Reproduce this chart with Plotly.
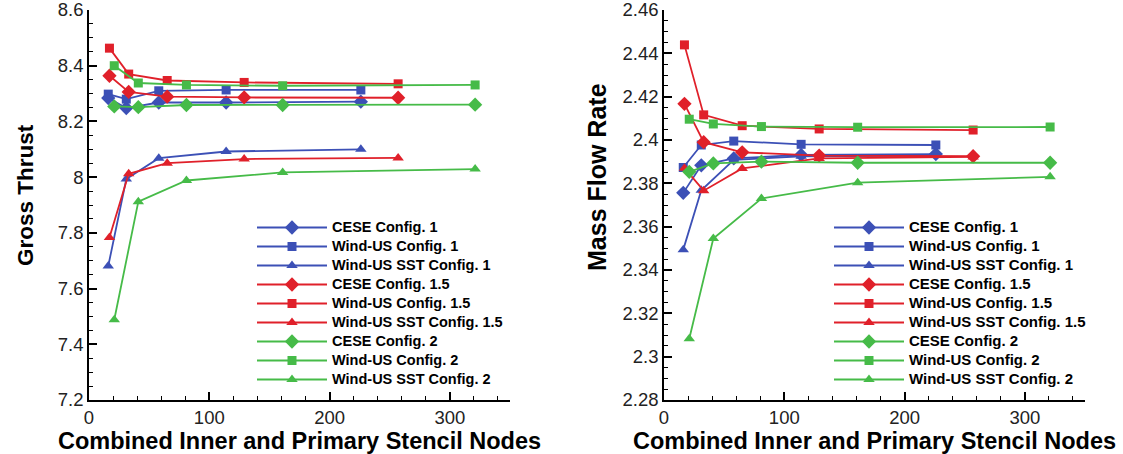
import plotly.graph_objects as go

# ---------------- data ----------------
x_c1 = [16, 31, 58, 114, 226]
x_c15 = [17, 33, 65, 129, 257]
x_c2 = [21, 41, 81, 161, 321]

thrust_cese1 = [8.284, 8.248, 8.268, 8.268, 8.271]
thrust_wind1 = [8.298, 8.280, 8.310, 8.313, 8.313]
thrust_sst1 = [7.681, 7.993, 8.068, 8.092, 8.100]
thrust_cese15 = [8.364, 8.306, 8.289, 8.286, 8.285]
thrust_wind15 = [8.463, 8.370, 8.347, 8.340, 8.335]
thrust_sst15 = [7.783, 8.012, 8.050, 8.065, 8.069]
thrust_cese2 = [8.254, 8.251, 8.259, 8.259, 8.260]
thrust_wind2 = [8.400, 8.338, 8.331, 8.328, 8.331]
thrust_sst2 = [7.488, 7.912, 7.988, 8.017, 8.029]

mfr_cese1 = [2.3756, 2.3883, 2.3915, 2.3931, 2.3935]
mfr_wind1 = [2.3873, 2.3977, 2.3995, 2.3980, 2.3977]
mfr_sst1 = [2.3494, 2.3768, 2.3908, 2.3925, 2.3928]
mfr_cese15 = [2.4167, 2.3990, 2.3943, 2.3928, 2.3925]
mfr_wind15 = [2.4439, 2.4116, 2.4066, 2.4051, 2.4046]
mfr_sst15 = [2.3870, 2.3766, 2.3869, 2.3915, 2.3922]
mfr_cese2 = [2.3853, 2.3892, 2.3900, 2.3895, 2.3895]
mfr_wind2 = [2.4096, 2.4074, 2.4062, 2.4059, 2.4060]
mfr_sst2 = [2.3083, 2.3545, 2.3730, 2.3803, 2.3830]

names = ["CESE Config. 1", "Wind-US Config. 1", "Wind-US SST Config. 1",
         "CESE Config. 1.5", "Wind-US Config. 1.5", "Wind-US SST Config. 1.5",
         "CESE Config. 2", "Wind-US Config. 2", "Wind-US SST Config. 2"]

x_title = "Combined Inner and Primary Stencil Nodes"
y_title_left = "Gross Thrust"
y_title_right = "Mass Flow Rate"

# ---------------- style ----------------
BLUE = "#3c50b6"
RED = "#e0202a"
GREEN = "#46bb48"
colors = [BLUE] * 3 + [RED] * 3 + [GREEN] * 3
symbols = ["diamond", "square", "triangle-up"] * 3
msizes = [11, 9, 10] * 3
xs = [x_c1] * 3 + [x_c15] * 3 + [x_c2] * 3
thrust = [thrust_cese1, thrust_wind1, thrust_sst1,
          thrust_cese15, thrust_wind15, thrust_sst15,
          thrust_cese2, thrust_wind2, thrust_sst2]
mfr = [mfr_cese1, mfr_wind1, mfr_sst1,
       mfr_cese15, mfr_wind15, mfr_sst15,
       mfr_cese2, mfr_wind2, mfr_sst2]

FONT = "Liberation Sans, Arial, Helvetica, sans-serif"
W, H = 1123, 454


def legend_label(s, size):
    return '<span style="font-size:%spx">%s</span>' % (size, s)


fig = go.Figure()
for i in range(9):
    fig.add_trace(go.Scatter(
        x=xs[i], y=thrust[i], name=legend_label(names[i], 14.5), mode="lines+markers",
        line=dict(color=colors[i], width=1.8),
        marker=dict(symbol=symbols[i], size=msizes[i], color=colors[i]),
        xaxis="x", yaxis="y", legend="legend"))
for i in range(9):
    fig.add_trace(go.Scatter(
        x=xs[i], y=mfr[i], name=legend_label(names[i], 15), mode="lines+markers",
        line=dict(color=colors[i], width=1.8),
        marker=dict(symbol=symbols[i], size=msizes[i], color=colors[i]),
        xaxis="x2", yaxis="y2", legend="legend2"))

axis_common = dict(
    showline=True, linecolor="black", linewidth=1.5,
    ticks="inside", ticklen=8, tickwidth=1.5, tickcolor="black",
    showgrid=False, zeroline=False,
    tickfont=dict(family=FONT, size=18.5, color="#222"),
    ticklabeloverflow="allow",
    mirror=False, automargin=False,
)
title_font = dict(family=FONT, size=23.5, color="black")

xt = dict(**axis_common, range=[0, 350], dtick=100, tick0=0,
          minor=dict(ticks="inside", ticklen=4, tickwidth=1, tickcolor="black", dtick=20),
          title=dict(text="<b>" + x_title + "</b>", font=title_font, standoff=7))

legend_common = dict(
    xanchor="left", yanchor="top",
    bgcolor="rgba(0,0,0,0)", borderwidth=0, tracegroupgap=0,
    itemwidth=70,
    font=dict(family=FONT, size=12, color="black", weight="bold"),
)

fig.update_layout(
    width=W, height=H,
    margin=dict(l=0, r=0, t=0, b=0, autoexpand=False),
    paper_bgcolor="white", plot_bgcolor="white",
    xaxis=dict(**xt, domain=[89 / W, 510 / W], anchor="y"),
    xaxis2=dict(**xt, domain=[664 / W, 1085 / W], anchor="y2"),
    yaxis=dict(**axis_common, range=[7.2, 8.6], dtick=0.2, tick0=7.2,
               minor=dict(ticks="inside", ticklen=4, tickwidth=1, tickcolor="black", dtick=0.05),
               domain=[54 / H, 444 / H], anchor="x"),
    yaxis2=dict(**axis_common, range=[2.28, 2.46], dtick=0.02, tick0=2.28,
                minor=dict(ticks="inside", ticklen=4, tickwidth=1, tickcolor="black", dtick=0.005),
                domain=[54 / H, 444 / H], anchor="x2"),
    legend=dict(**legend_common, x=252 / W, y=1 - 213 / H),
    legend2=dict(**legend_common, x=829 / W, y=1 - 213 / H),
    showlegend=True,
    annotations=[
        dict(text="<b>" + y_title_left + "</b>", textangle=-90, showarrow=False,
             xref="paper", yref="paper", x=25 / W, y=1 - 195 / H,
             xanchor="center", yanchor="middle",
             font=dict(family=FONT, size=22.5, color="black")),
        dict(text="<b>" + y_title_right + "</b>", textangle=-90, showarrow=False,
             xref="paper", yref="paper", x=597 / W, y=1 - 177 / H,
             xanchor="center", yanchor="middle",
             font=dict(family=FONT, size=25, color="black")),
    ],
)

fig.write_html("out.html")
